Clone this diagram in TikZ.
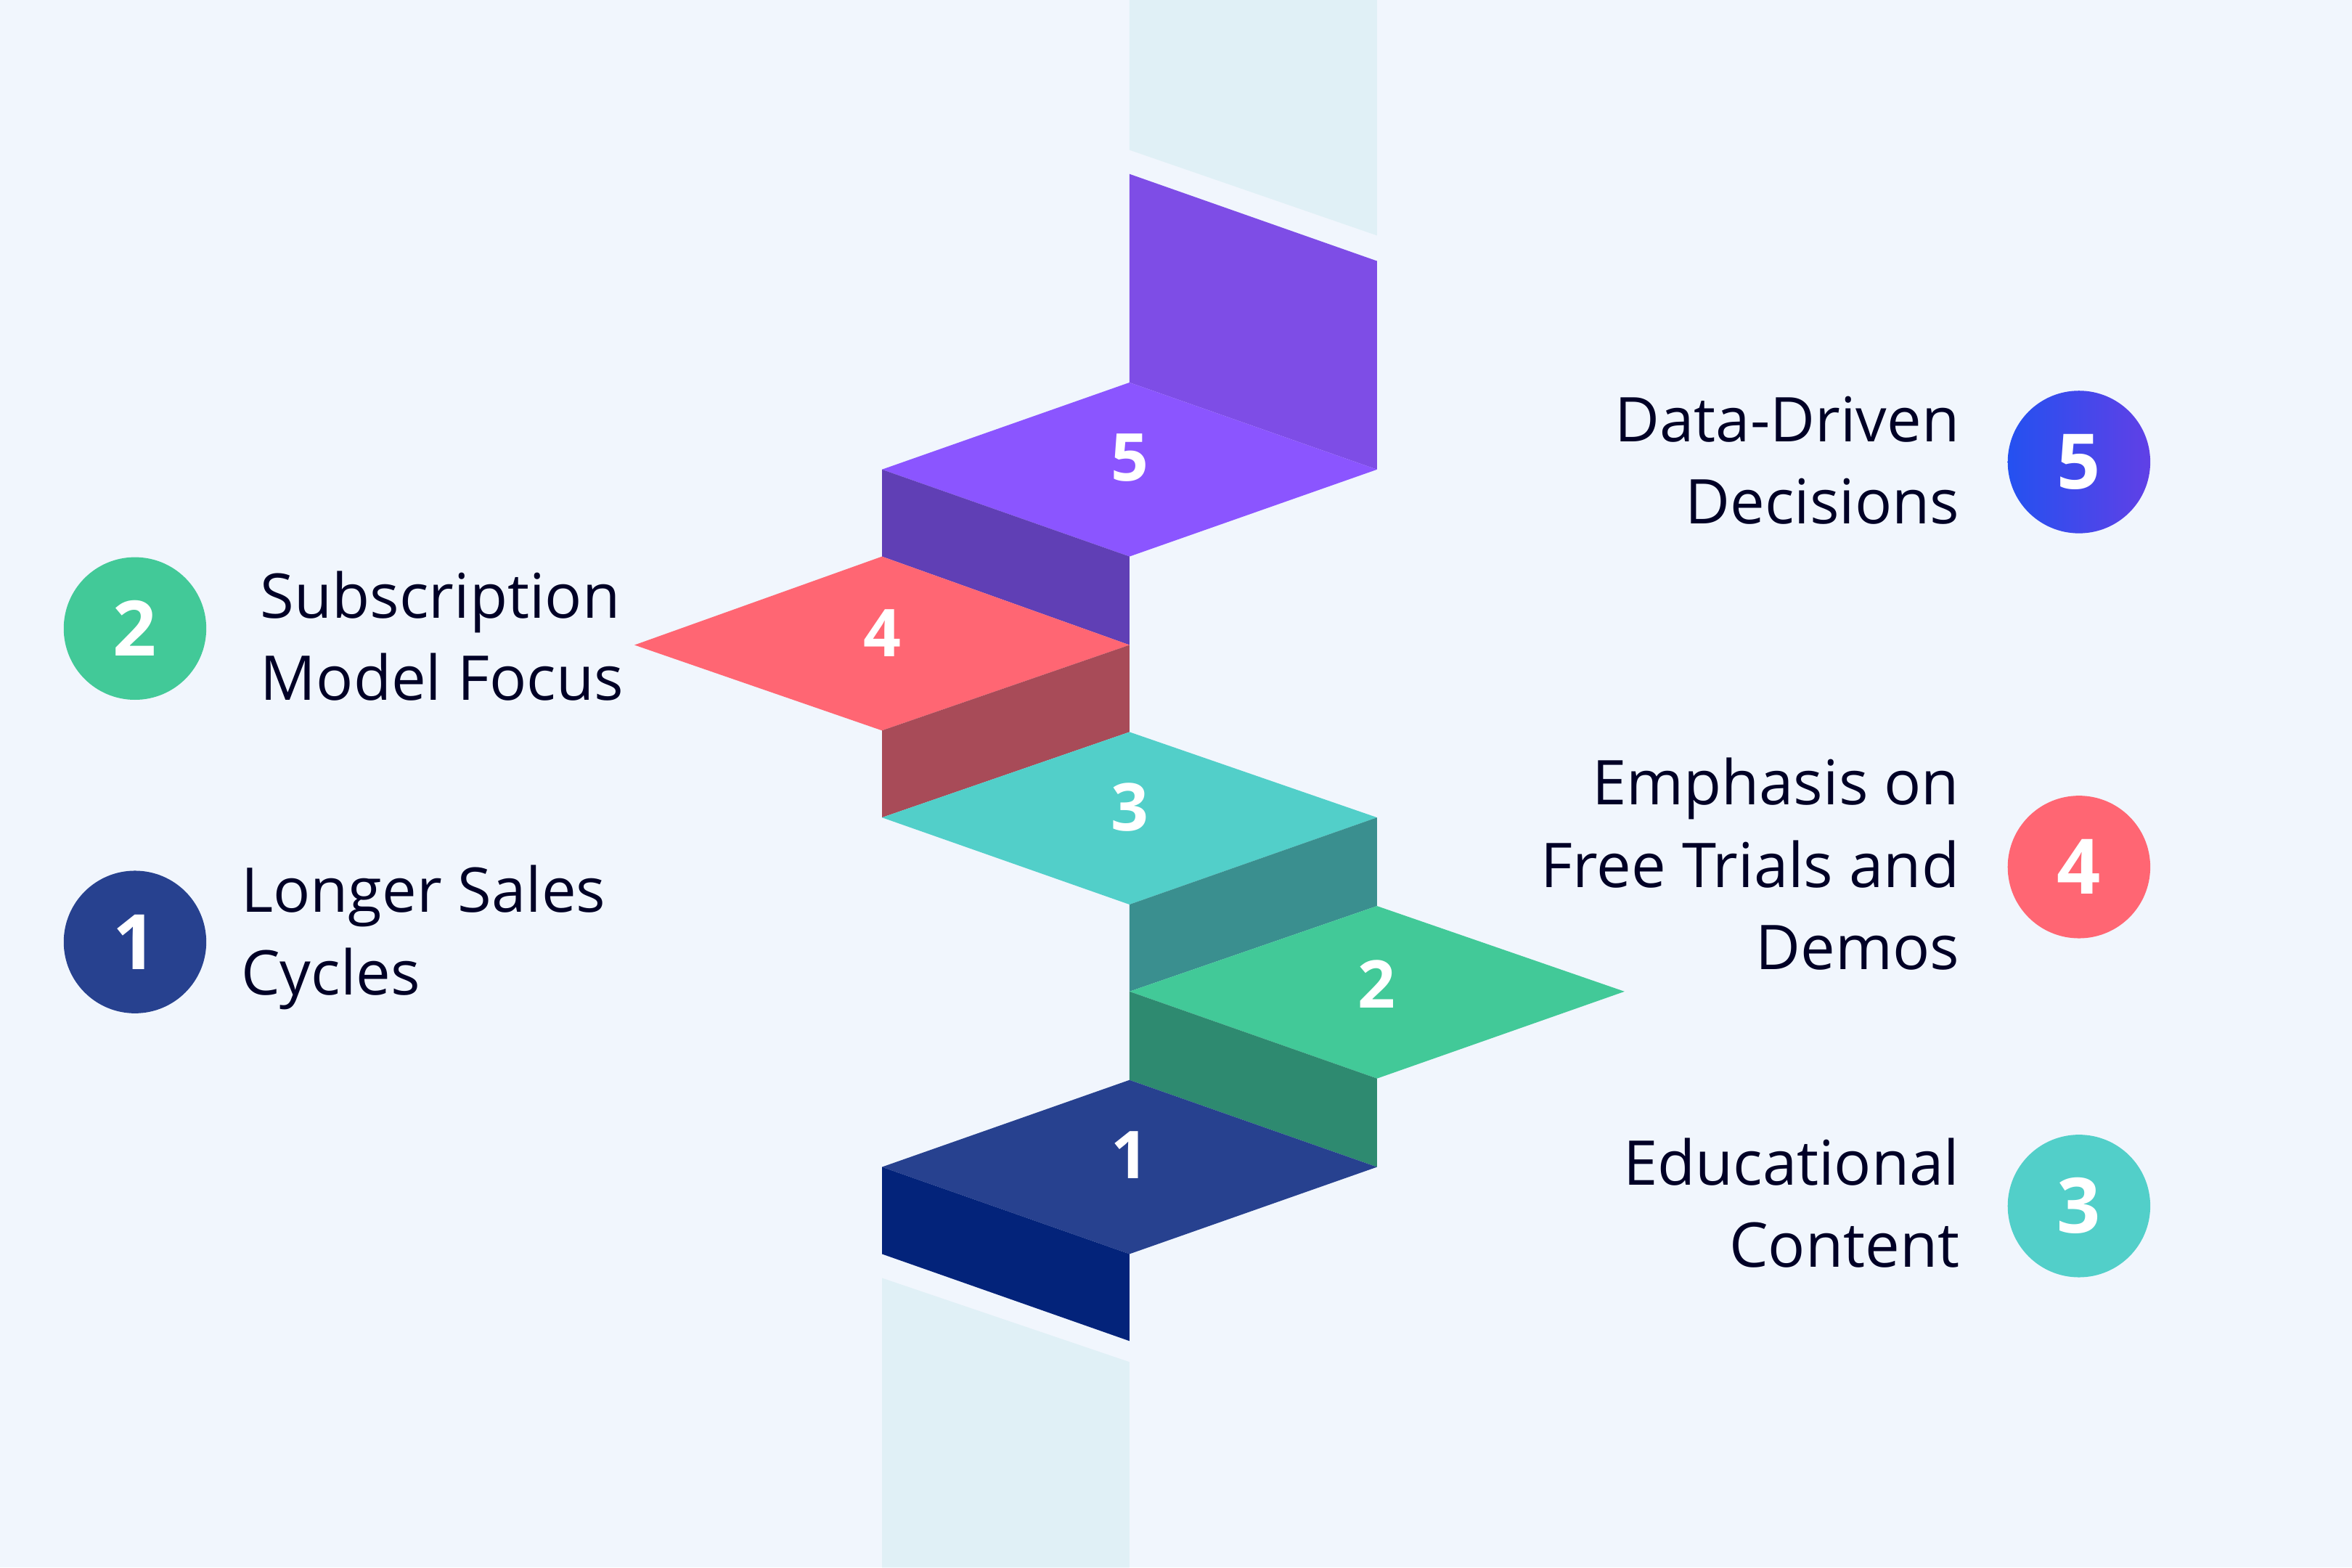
\documentclass[tikz,border=0pt]{standalone}
\usepackage{fontspec}
\setmainfont{Open Sans}
\begin{document}
\begin{tikzpicture}[x=0.01cm,y=-0.01cm,
  lbl/.style={font=\fontsize{11.7}{15.6}\selectfont, text=black!85!blue, inner sep=0pt},
  num/.style={font=\fontsize{12.5}{14}\selectfont\bfseries, text=white},
  circ/.style={circle, minimum size=0.95cm, inner sep=0pt, font=\fontsize{14.5}{16}\selectfont\bfseries, text=white}]
\definecolor{bg}{HTML}{F1F6FD}
\definecolor{strip}{HTML}{E0F0F6}
\fill[bg] (0,0) rectangle (1568,1045);
\useasboundingbox (0,0) rectangle (1568,1045);
\fill[strip] (753,0) -- (918,0) -- (918,157) -- (753,100) -- cycle;
\fill[strip] (588,852) -- (753,908) -- (753,1045) -- (588,1045) -- cycle;
\fill[color={rgb,255:red,126;green,77;blue,230}] (753,116) -- (918,174) -- (918,313) -- (753,255) -- cycle;
\fill[color={rgb,255:red,139;green,85;blue,255}] (588,313) -- (753,255) -- (918,313) -- (753,371) -- cycle;
\fill[color={rgb,255:red,96;green,63;blue,181}] (588,313) -- (753,371) -- (753,430) -- (588,371) -- cycle;
\fill[color={rgb,255:red,255;green,102;blue,115}] (423,430) -- (588,371) -- (753,430) -- (588,487) -- cycle;
\fill[color={rgb,255:red,168;green,75;blue,88}] (588,487) -- (753,430) -- (753,488) -- (588,545) -- cycle;
\fill[color={rgb,255:red,82;green,207;blue,201}] (588,545) -- (753,488) -- (918,545) -- (753,603) -- cycle;
\fill[color={rgb,255:red,58;green,143;blue,143}] (753,603) -- (918,545) -- (918,604) -- (753,661) -- cycle;
\fill[color={rgb,255:red,66;green,201;blue,152}] (753,661) -- (918,604) -- (1083,661) -- (918,719) -- cycle;
\fill[color={rgb,255:red,46;green,138;blue,112}] (753,661) -- (918,719) -- (918,778) -- (753,720) -- cycle;
\fill[color={rgb,255:red,39;green,65;blue,143}] (588,778) -- (753,720) -- (918,778) -- (753,836) -- cycle;
\fill[color={rgb,255:red,3;green,35;blue,122}] (588,778) -- (753,836) -- (753,894) -- (588,836) -- cycle;
\node[num] (f5) at (753,305) {5};
\node[num] (f4) at (588,422) {4};
\node[num] (f3) at (753,538) {3};
\node[num] (f2) at (918,656) {2};
\node[num] (f1) at (753,770) {1};
\node[circ, fill={rgb,255:red,66;green,201;blue,152}] (c2) at (90,419) {2};
\node[circ, fill={rgb,255:red,39;green,65;blue,143}] (c1) at (90,628) {1};
\node[circ, left color={rgb,255:red,36;green,81;blue,240}, right color={rgb,255:red,96;green,64;blue,230}] (c5) at (1386,308) {5};
\node[circ, fill={rgb,255:red,255;green,102;blue,115}] (c4) at (1386,578) {4};
\node[circ, fill={rgb,255:red,82;green,207;blue,201}] (c3) at (1386,804) {3};
\node[lbl, anchor=west, align=left] (t2) at (173,424) {Subscription\\Model Focus};
\node[lbl, anchor=west, align=left] (t1) at (160,625) {Longer Sales\\Cycles};
\node[lbl, anchor=east, align=right] (t5) at (1307,307) {Data-Driven\\Decisions};
\node[lbl, anchor=east, align=right] (t4) at (1307,576) {Emphasis on\\Free Trials and\\Demos};
\node[lbl, anchor=east, align=right] (t3) at (1307,802) {Educational\\Content};
\end{tikzpicture}
\end{document}
